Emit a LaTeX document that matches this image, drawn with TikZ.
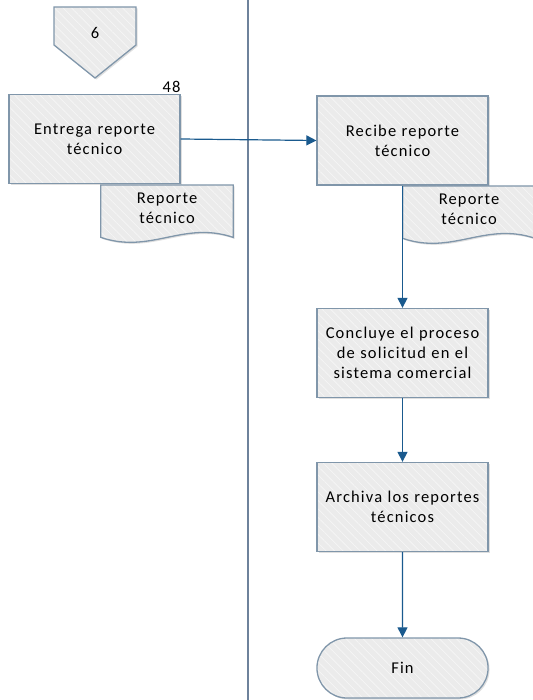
\documentclass[tikz,border=0pt]{standalone}
\usepackage{fontspec}
\setmainfont{Carlito}[LetterSpace=7]
\usepackage{tikz}
\usetikzlibrary{shapes.misc,arrows.meta,positioning,calc,shadows,patterns.meta}
\definecolor{boxgrey}{RGB}{235,235,235}
\definecolor{edgegrey}{RGB}{128,150,170}
\definecolor{lanegrey}{RGB}{110,130,155}
\definecolor{flowblue}{RGB}{26,90,142}

% document symbol drawn around a named node
\newcommand{\docshape}[1]{%
  \draw[docline] (#1.north west) -- (#1.north east) -- (#1.south east)
    .. controls ($(#1.south east)+(-50,-17)$) and ($(#1.south west)+(50,17)$) .. (#1.south west) -- cycle;}

\begin{document}
\begin{tikzpicture}[x=1pt, y=-1pt,
    proc/.style={rectangle, draw=edgegrey, line width=1.3pt,
        preaction={fill=boxgrey, drop shadow={opacity=0.25, shadow xshift=1.5pt, shadow yshift=-1.5pt}},
        pattern={Lines[angle=-45,distance=6pt,line width=0.7pt]}, pattern color=white!55!boxgrey,
        minimum width=171pt, minimum height=89pt, font=\fontsize{16.5}{20}\selectfont,
        align=center, text width=168pt, inner sep=1pt},
    docnode/.style={rectangle, minimum width=132pt, minimum height=52pt,
        font=\fontsize{16.5}{20}\selectfont, align=center, inner sep=0pt},
    docline/.style={draw=edgegrey, line width=1.3pt,
        preaction={fill=boxgrey, drop shadow={opacity=0.25, shadow xshift=1.5pt, shadow yshift=-1.5pt}},
        pattern={Lines[angle=-45,distance=6pt,line width=0.7pt]}, pattern color=white!55!boxgrey},
    term/.style={proc, rounded rectangle, minimum height=60pt},
    arr/.style={-{Triangle[length=10pt,width=10pt]}, line width=1.2pt, flowblue}
]
    \useasboundingbox (0,0) rectangle (532,700);

    % lane divider
    \draw[lanegrey, line width=1.5pt] (248,0) -- (248,700);

    % off-page connector
    \draw[docline] (54,7) -- (136,7) -- (136,45) -- (95,78) -- (54,45) -- cycle;
    \node[font=\fontsize{16.5}{20}\selectfont] (off6) at (95,33) {6};

    \node[proc] (entrega) at (94.5,139) {Entrega reporte\\técnico};
    \node[anchor=south east, inner sep=1pt, font=\fontsize{16.5}{16}\selectfont] (num48)
        at ($(entrega.north east)+(1,0)$) {48};

    \node[docnode, anchor=north] (docA) at (167,185) {};
    \docshape{docA}
    \node[docnode, minimum height=0pt] (docAtxt) at (167,208) {Reporte\\técnico};

    \node[proc] (recibe) at (402.5,140.5) {Recibe reporte\\técnico};

    \node[docnode, anchor=north] (docB) at (469,186) {};
    \docshape{docB}
    \node[docnode, minimum height=0pt] (docBtxt) at (469,209) {Reporte\\técnico};

    \node[proc] (concluye) at (402.5,353) {Concluye el proceso\\de solicitud en el\\sistema comercial};
    \node[proc] (archiva) at (402.5,507) {Archiva los reportes\\técnicos};
    \node[term] (fin) at (402.5,668) {Fin};

    \draw[arr] (entrega.east) -- (recibe.west);
    \draw[arr] (recibe) -- (concluye);
    \draw[arr] (concluye) -- (archiva);
    \draw[arr] (archiva) -- (fin);
\end{tikzpicture}
\end{document}
